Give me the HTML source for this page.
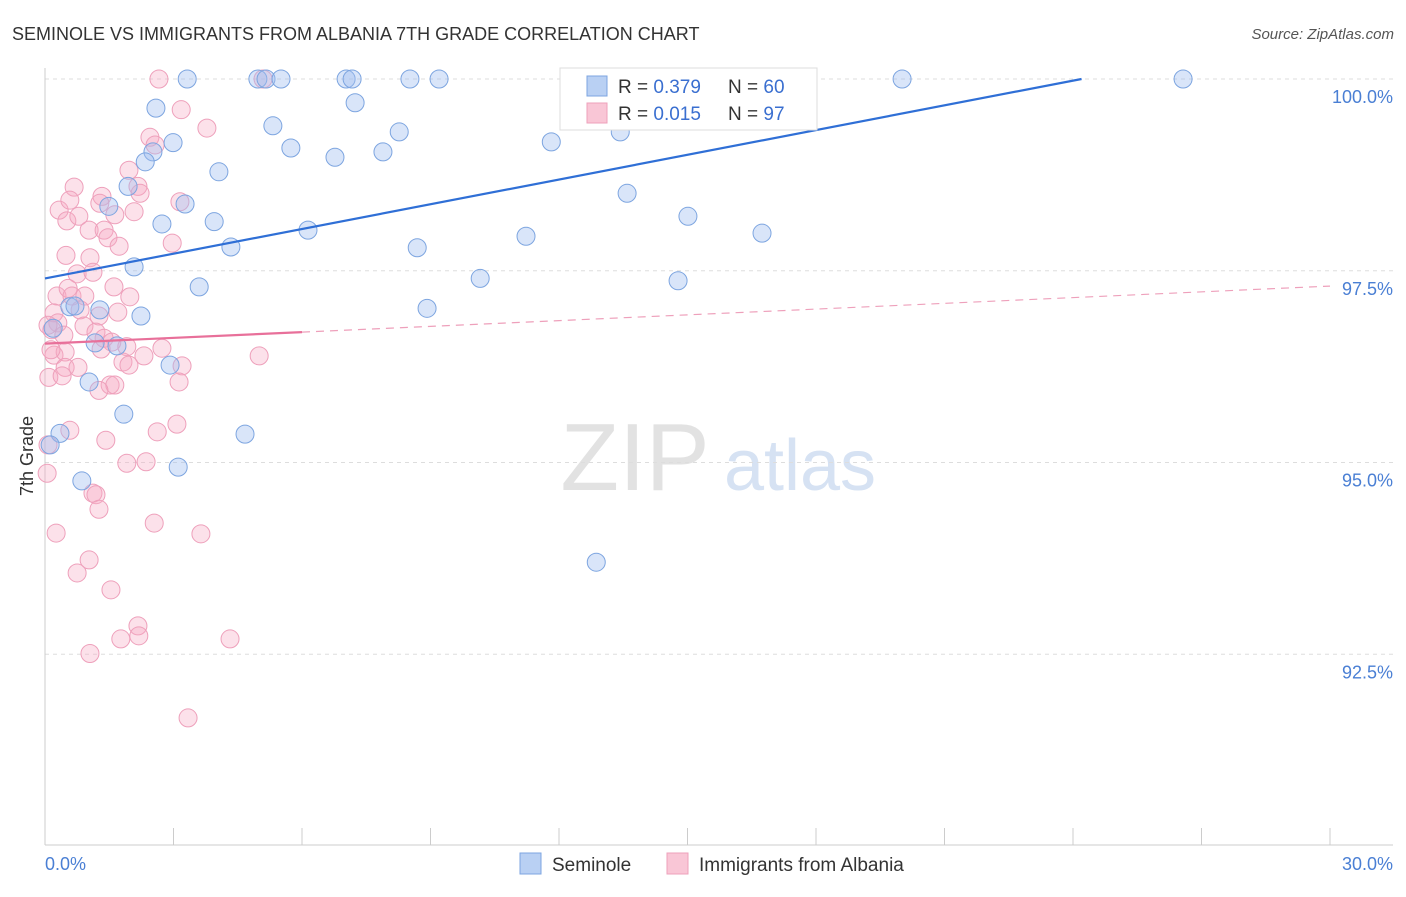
<!DOCTYPE html>
<html><head><meta charset="utf-8"><style>
body{margin:0;background:#fff;font-family:"Liberation Sans",sans-serif}
svg text{font-family:"Liberation Sans",sans-serif}
</style></head><body>
<svg id="chart" width="1406" height="892" xmlns="http://www.w3.org/2000/svg">
<text x="12" y="40" font-size="18" fill="#333">SEMINOLE VS IMMIGRANTS FROM ALBANIA 7TH GRADE CORRELATION CHART</text>
<text x="1394" y="39" font-size="15" fill="#555" text-anchor="end" font-style="italic">Source: ZipAtlas.com</text>
<g>
<text x="635" y="490" font-size="96" fill="#e2e2e2" text-anchor="middle" font-family="Liberation Serif">ZIP</text>
<text x="800" y="490" font-size="72" fill="#d6e2f3" text-anchor="middle">atlas</text>
</g>
<g id="grid"></g>
<g id="axes"></g>
<g id="pts"></g>
<g id="lines"></g>
<text transform="translate(33,456) rotate(-90)" font-size="18" fill="#333" text-anchor="middle">7th Grade</text>
<text x="45" y="870" font-size="18" fill="#4a7fd4">0.0%</text>
<text x="1393" y="870" font-size="18" fill="#4a7fd4" text-anchor="end">30.0%</text>
<g>
<rect x="560" y="68" width="257" height="62" fill="#fff" stroke="#ddd"/>
<rect x="587" y="76" width="20" height="20" fill="#b9d0f3" stroke="#7da5e0"/>
<rect x="587" y="103" width="20" height="20" fill="#f9c6d6" stroke="#eea0bb"/>
<text x="618" y="93" font-size="19" fill="#333">R = <tspan fill="#3a6fd0">0.379</tspan></text>
<text x="728" y="93" font-size="19" fill="#333">N = <tspan fill="#3a6fd0">60</tspan></text>
<text x="618" y="120" font-size="19" fill="#333">R = <tspan fill="#3a6fd0">0.015</tspan></text>
<text x="728" y="120" font-size="19" fill="#333">N = <tspan fill="#3a6fd0">97</tspan></text>
</g>
<g>
<rect x="520" y="853" width="21" height="21" fill="#b9d0f3" stroke="#7da5e0"/>
<text x="552" y="871" font-size="19" fill="#333">Seminole</text>
<rect x="667" y="853" width="21" height="21" fill="#f9c6d6" stroke="#eea0bb"/>
<text x="699" y="871" font-size="19" fill="#333">Immigrants from Albania</text>
</g>
</svg>
<script>
const yTicks=[100,97.5,95,92.5];
const yTickLabels=["100.0%","97.5%","95.0%","92.5%"];
const xTicks=[0,3,6,9,12,15,18,21,24,27,30];
const blueX=[3.32,4.97,5.16,5.51,7.03,7.17,8.52,9.20,20.01,26.57,2.59,7.24,15.62,5.32,8.27,2.99,11.82,13.43,2.52,5.74,6.77,7.89,2.34,4.06,1.94,13.59,1.49,3.27,3.95,2.73,15.01,6.14,11.23,16.74,4.34,8.69,2.08,10.16,14.78,3.60,0.58,1.28,2.24,8.92,0.70,1.17,1.68,2.92,1.03,1.84,4.67,0.35,3.11,0.86,12.87,0.19,0.12];
const blueY=[100,100,100,100,100,100,100,100,100,100,99.62,99.69,99.74,99.39,99.31,99.17,99.18,99.31,99.05,99.10,98.98,99.05,98.92,98.79,98.60,98.51,98.34,98.37,98.14,98.11,98.21,98.03,97.95,97.99,97.81,97.80,97.55,97.40,97.37,97.29,97.03,96.99,96.91,97.01,97.04,96.56,96.52,96.27,96.05,95.63,95.37,95.38,94.94,94.76,93.70,96.75,95.23];
const pinkX=[2.66,5.09,3.18,3.78,2.45,2.57,1.96,0.68,1.33,2.17,2.22,0.33,0.58,1.28,3.15,1.63,2.08,0.51,0.79,1.03,1.38,1.47,1.73,2.97,0.49,1.05,0.75,1.12,1.61,0.28,0.54,0.63,0.93,1.98,0.21,0.82,1.26,1.70,0.30,0.91,1.19,0.16,0.44,1.38,1.56,1.91,1.31,2.73,0.21,0.47,2.31,5.00,1.82,1.96,3.20,0.47,0.77,0.09,0.40,1.52,1.63,3.13,1.26,0.58,1.42,2.62,3.08,1.91,2.36,0.05,1.12,1.19,1.26,2.55,0.26,3.64,1.03,0.75,1.54,2.17,2.19,1.77,4.32,1.05,3.34,0.07,0.07,0.14];
const pinkY=[100,100,99.60,99.36,99.24,99.14,98.81,98.59,98.47,98.60,98.51,98.29,98.42,98.38,98.40,98.23,98.27,98.15,98.21,98.03,98.03,97.93,97.82,97.86,97.70,97.67,97.46,97.48,97.29,97.17,97.27,97.17,97.17,97.16,96.95,96.99,96.91,96.96,96.82,96.78,96.70,96.73,96.66,96.62,96.57,96.51,96.48,96.49,96.40,96.44,96.39,96.39,96.31,96.27,96.26,96.24,96.24,96.11,96.13,96.01,96.01,96.05,95.94,95.42,95.29,95.40,95.50,94.99,95.01,94.86,94.60,94.58,94.39,94.21,94.08,94.07,93.73,93.56,93.34,92.87,92.74,92.70,92.70,92.51,91.67,95.23,96.79,96.47];
const blueTrend=[[0,97.4],[24.2,100]];
const pinkSolid=[[0,96.55],[6,96.7]];
const pinkDash=[[6,96.7],[30,97.3]];
const NS="http://www.w3.org/2000/svg";
const X=v=>45+v/30*1285, Y=v=>79+(100-v)*76.7;
function mk(t,a,p){const e=document.createElementNS(NS,t);for(const k in a)e.setAttribute(k,a[k]);document.getElementById(p).appendChild(e);return e;}
yTicks.forEach((t,i)=>{
 const l=mk('line',{x1:45,x2:1393,y1:Y(t),y2:Y(t),stroke:'#ddd','stroke-dasharray':'4,4'},'grid');
 
 
 const tx=mk('text',{x:1393,y:Y(t)+24,'font-size':18,fill:'#4a7fd4','text-anchor':'end'},'grid');
 
 
 tx.textContent=yTickLabels[i];
});
let a=mk('line',{x1:45,x2:45,y1:68,y2:845,stroke:'#ccc'},'axes');


a=mk('line',{x1:45,x2:1393,y1:845,y2:845,stroke:'#ccc'},'axes');


xTicks.forEach(t=>{const l=mk('line',{x1:X(t),x2:X(t),y1:828,y2:845,stroke:'#ccc'},'axes');
 
 });
pinkX.forEach((x,i)=>{const c=mk('circle',{cx:X(x),cy:Y(pinkY[i]),r:9,fill:'rgba(245,170,195,0.35)',stroke:'#eea0bb','stroke-width':1},'pts');
 
 });
blueX.forEach((x,i)=>{const c=mk('circle',{cx:X(x),cy:Y(blueY[i]),r:9,fill:'rgba(160,190,240,0.4)',stroke:'#7da5e0','stroke-width':1},'pts');
 
 });
let ln=mk('line',{x1:X(blueTrend[0][0]),y1:Y(blueTrend[0][1]),x2:X(blueTrend[1][0]),y2:Y(blueTrend[1][1]),stroke:'#2f6fd6','stroke-width':2.2},'lines');


ln=mk('line',{x1:X(pinkSolid[0][0]),y1:Y(pinkSolid[0][1]),x2:X(pinkSolid[1][0]),y2:Y(pinkSolid[1][1]),stroke:'#e8709a','stroke-width':2.2},'lines');


ln=mk('line',{x1:X(pinkDash[0][0]),y1:Y(pinkDash[0][1]),x2:X(pinkDash[1][0]),y2:Y(pinkDash[1][1]),stroke:'#eea0bb','stroke-width':1.2,'stroke-dasharray':'8,6'},'lines');


</script>
</body></html>
